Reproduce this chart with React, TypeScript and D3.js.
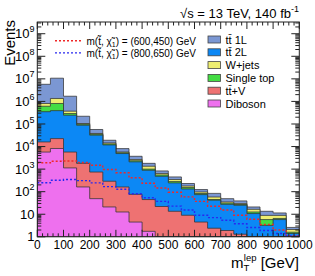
import React from 'react';
import * as d3 from 'd3';

// bin edges of m_T^lep [GeV]
const binEdges = [0, 50, 100, 150, 200, 250, 300, 350, 400, 450, 500, 550, 600, 650, 700, 750, 800, 850, 900, 950, 1000];

// stacked backgrounds (bottom -> top)
const diboson = [5700, 8200, 1130, 162, 49, 21, 12.6, 4.5, 1.75, 0, 0, 0, 0, 0, 0, 0, 0, 0, 0, 0];
const ttV = [10300, 14300, 4570, 1638, 691, 269, 149, 71.5, 43, 22, 13.5, 9, 4.5, 2.4, 1.9, 1.3, 0.8, 0.6, 0.5, 0.3];
const tt2L = [334000, 367500, 239300, 86200, 31260, 11510, 4738, 2024, 845, 458, 231.5, 123, 69.5, 39.6, 25.6, 23.7, 9.9, 2.6, 5.3, 1.1];
const singleTop = [260000, 420000, 45000, 9000, 3000, 1200, 400, 250, 110, 70, 35, 20, 9, 3, 3.5, 2, 1.9, 2.6, 0.7, 0.2];
const wjets = [200000, 540000, 80000, 8000, 3000, 1500, 450, 300, 340, 85, 65, 26, 14, 13, 4, 2.6, 3.9, 3.1, 2.4, 0.5];
const tt1L = [4940000, 9350000, 1330000, 115000, 19000, 4500, 2350, 1050, 460, 195, 105, 52, 27, 26, 14, 9.4, 4.5, 4.6, 2.5, 0.5];

// signals (not stacked)
const sig600 = [1900, 2240, 2300, 1950, 1480, 960, 690, 415, 235, 145, 94, 59, 37, 22.5, 15.4, 9, 6, 3.5, 2, 1.1];
const sig800 = [247, 320, 345, 310, 245, 168, 128, 81, 54, 37, 23, 15.4, 9, 7.1, 5.4, 3.8, 2.6, 1.9, 1.4, 1.1];

const xTickLabels = ['0', '100', '200', '300', '400', '500', '600', '700', '800', '900', '1000'];
const yDecades = [0, 1, 2, 3, 4, 5, 6, 7, 8, 9];

const layerNames = ['Diboson', 'ttV', 'tt2L', 'SingleTop', 'Wjets', 'tt1L'];
const layerValues = [diboson, ttV, tt2L, singleTop, wjets, tt1L];
const layerColors = ['#ee70ee', '#ee7272', '#0c88f5', '#44dd44', '#eeee70', '#7b97d3'];

const legendLabels = ['tt\u0304 1L', 'tt\u0304 2L', 'W+jets', 'Single top', 'tt\u0304+V', 'Diboson'];
const legendColors = ['#7b97d3', '#0c88f5', '#eeee70', '#44dd44', '#ee7272', '#ee70ee'];

const W = 315, H = 276;
const L = 37.3, R = 299.3, T = 22, B = 236.8;
const FONT = 'Liberation Sans, Arial, sans-serif';

export default function App() {
  const x = d3.scaleLinear().domain([0, 1000]).range([L, R]);
  const y = d3.scaleLog().domain([1, Math.pow(10, 9.52)]).range([B, T]);
  const yc = (v: number) => (v <= 1 ? B : y(v));

  // cumulative stacks
  const cum: number[][] = [];
  layerValues.forEach((vals, li) => {
    cum.push(vals.map((v, i) => v + (li > 0 ? cum[li - 1][i] : 0)));
  });

  const stepPath = (vals: number[]) => {
    let p = `M${x(binEdges[0])},${B}`;
    vals.forEach((v, i) => {
      p += `L${x(binEdges[i])},${yc(v)}L${x(binEdges[i + 1])},${yc(v)}`;
    });
    p += `L${x(binEdges[binEdges.length - 1])},${B}Z`;
    return p;
  };

  const lineGen = d3.line<[number, number]>().x(d => x(d[0])).y(d => yc(d[1]));
  const stepPoints = (vals: number[]) => {
    const pts: [number, number][] = [];
    vals.forEach((v, i) => { pts.push([binEdges[i], v]); pts.push([binEdges[i + 1], v]); });
    return pts;
  };

  const xTicks = d3.range(0, 1001, 20);
  const yTicks: { v: number; major: boolean }[] = [];
  yDecades.forEach(d => {
    for (let k = 1; k <= 9; k++) {
      const v = k * Math.pow(10, d);
      if (v <= Math.pow(10, 9.52)) yTicks.push({ v, major: k === 1 });
    }
  });

  return (
    <svg width={W} height={H} style={{ position: 'absolute', left: 0, top: 0, background: '#fff' }} fontFamily={FONT}>
      <defs>
        <clipPath id="plot"><rect x={L} y={T} width={R - L} height={B - T} /></clipPath>
      </defs>
      <rect x={0} y={0} width={W} height={H} fill="#fff" />
      <g clipPath="url(#plot)">
        {cum.map((c, li) => li).reverse().map(li => (
          <path key={layerNames[li]} d={stepPath(cum[li])} fill={layerColors[li]} stroke="#333" strokeOpacity={0.75} strokeWidth={1} />
        ))}
        <path d={lineGen(stepPoints(sig600)) || ''} fill="none" stroke="#f02828" strokeWidth={1.4} strokeDasharray="2,2" />
        <path d={lineGen(stepPoints(sig800)) || ''} fill="none" stroke="#2828f0" strokeWidth={1.4} strokeDasharray="2,2" />
      </g>
      {/* ticks */}
      {xTicks.map(t => {
        const len = t % 100 === 0 ? 7 : 3.5;
        const xx = x(t);
        return (
          <g key={'xt' + t} stroke="#222" strokeWidth={1}>
            <line x1={xx} x2={xx} y1={B} y2={B - len} />
            <line x1={xx} x2={xx} y1={T} y2={T + len} />
          </g>
        );
      })}
      {yTicks.map(t => {
        const len = t.major ? 8 : 4;
        const yy = y(t.v);
        return (
          <g key={'yt' + t.v} stroke="#222" strokeWidth={1}>
            <line x1={L} x2={L + len} y1={yy} y2={yy} />
            <line x1={R} x2={R - len} y1={yy} y2={yy} />
          </g>
        );
      })}
      <rect x={L} y={T} width={R - L} height={B - T} fill="none" stroke="#222" strokeWidth={1} />
      {/* x tick labels */}
      {xTickLabels.map(lab => (
        <text key={'xl' + lab} x={x(+lab)} y={249} fontSize={12} textAnchor="middle" fill="#000">{lab}</text>
      ))}
      {/* y tick labels */}
      {yDecades.map(d => (
        <text key={'yl' + d} x={34.5} y={y(Math.pow(10, d)) + 4.6} fontSize={13} textAnchor="end" fill="#000">
          {d === 0 ? '1' : d === 1 ? '10' : (<>
            <tspan>10</tspan><tspan dy={-6} fontSize={9}>{d}</tspan>
          </>)}
        </text>
      ))}
      {/* axis titles */}
      <text transform="translate(14.5,20) rotate(-90)" textAnchor="end" fontSize={15} fill="#000">Events</text>
      <text x={299} y={267.5} textAnchor="end" fontSize={15} fill="#000">
        <tspan>m</tspan>
        <tspan fontSize={9.5} dy={3}>T</tspan>
        <tspan fontSize={9.5} dx={-5.5} dy={-10}>lep</tspan>
        <tspan dy={7}> [GeV]</tspan>
      </text>
      {/* header */}
      <text x={299} y={17.5} textAnchor="end" fontSize={13} fill="#000">
        <tspan>{'\u221As = 13 TeV,  140 fb'}</tspan>
        <tspan fontSize={9} dy={-6}>-1</tspan>
      </text>
      {/* signal legend */}
      {[{ c: '#f02828', lab: '(600,450)' }, { c: '#2828f0', lab: '(800,650)' }].map((s, i) => {
        const yy = 40.7 + i * 12.2;
        return (
          <g key={'sl' + i}>
            <line x1={55} x2={81.5} y1={yy} y2={yy} stroke={s.c} strokeWidth={1.4} strokeDasharray="2,2" />
            <text x={86.5} y={yy + 3.8} fontSize={10} fill="#000">
              <tspan>{'m(t\u0303, \u03C7\u0303'}</tspan>
              <tspan fontSize={7} dy={2.5}>1</tspan>
              <tspan dy={-2.5}>{') = ' + s.lab + ' GeV'}</tspan>
            </text>
          </g>
        );
      })}
      {/* background legend */}
      {legendLabels.map((lab, i) => {
        const base = 43.5 + i * 12.8;
        return (
          <g key={'lg' + i}>
            <rect x={208} y={base - 7.5} width={12.5} height={7} fill={legendColors[i]} stroke="#444" strokeWidth={0.8} />
            <text x={225.5} y={base} fontSize={11} fill="#000">{lab}</text>
          </g>
        );
      })}
    </svg>
  );
}
